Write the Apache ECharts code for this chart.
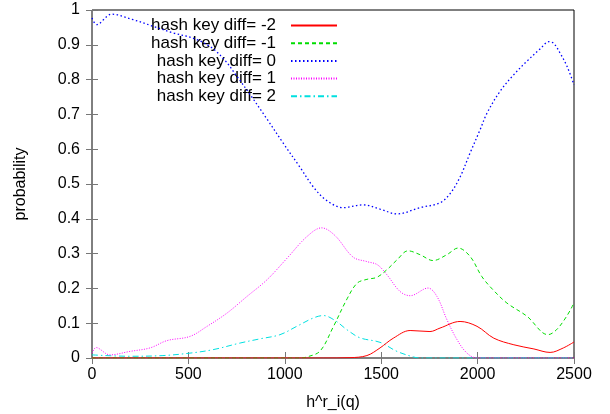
<!DOCTYPE html>
<html>
<head>
<meta charset="utf-8">
<script src="https://cdn.jsdelivr.net/npm/echarts@6/dist/echarts.min.js"></script>
<style>
html,body{margin:0;padding:0;background:#fff;}
#chart{width:610px;height:414px;}
</style>
</head>
<body>
<div id="chart"></div>
<script>
// ---- data ----
var seriesNames = ['hash key diff= -2', 'hash key diff= -1', 'hash key diff= 0', 'hash key diff= 1', 'hash key diff= 2'];

var xDiffM2 = [0, 1200, 1338, 1426, 1494, 1563, 1650, 1753, 1805, 1909, 1997, 2084, 2188, 2292, 2376, 2445, 2500];
var yDiffM2 = [0, 0, 0.001, 0.007, 0.029, 0.057, 0.079, 0.076, 0.086, 0.105, 0.091, 0.057, 0.038, 0.026, 0.016, 0.029, 0.046];

var xDiffM1 = [0, 1079, 1115, 1183, 1250, 1323, 1375, 1426, 1478, 1530, 1582, 1639, 1701, 1769, 1841, 1899, 1961, 2022, 2080, 2152, 2256, 2365, 2409, 2462, 2500];
var yDiffM1 = [0, 0, 0.003, 0.02, 0.088, 0.17, 0.215, 0.226, 0.232, 0.254, 0.282, 0.308, 0.297, 0.28, 0.297, 0.316, 0.292, 0.234, 0.196, 0.158, 0.12, 0.067, 0.081, 0.12, 0.158];

var xDiff0 = [0, 24, 102, 214, 318, 422, 530, 620, 690, 751, 820, 906, 991, 1079, 1150, 1219, 1302, 1406, 1494, 1582, 1701, 1805, 1857, 1909, 1961, 2013, 2049, 2116, 2184, 2256, 2324, 2370, 2395, 2428, 2464, 2500];
var yDiff0 = [0.977, 0.958, 0.988, 0.972, 0.953, 0.934, 0.918, 0.892, 0.855, 0.81, 0.757, 0.688, 0.618, 0.548, 0.49, 0.452, 0.432, 0.44, 0.428, 0.414, 0.432, 0.446, 0.472, 0.52, 0.589, 0.656, 0.704, 0.766, 0.812, 0.853, 0.888, 0.909, 0.904, 0.876, 0.838, 0.785];

var xDiffP1 = [0, 21, 93, 197, 301, 389, 508, 597, 700, 804, 908, 1012, 1115, 1191, 1260, 1354, 1426, 1480, 1530, 1598, 1650, 1743, 1789, 1841, 1893, 1945, 1997, 2500];
var yDiffP1 = [0.014, 0.03, 0.009, 0.019, 0.029, 0.05, 0.062, 0.091, 0.129, 0.177, 0.225, 0.287, 0.349, 0.374, 0.352, 0.29, 0.277, 0.268, 0.239, 0.191, 0.179, 0.201, 0.177, 0.11, 0.053, 0.014, 0, 0];

var xDiffP2 = [0, 197, 368, 508, 628, 768, 871, 975, 1062, 1148, 1200, 1260, 1323, 1390, 1494, 1582, 1667, 1701, 2500];
var yDiffP2 = [0.009, 0.005, 0.007, 0.014, 0.024, 0.043, 0.055, 0.067, 0.091, 0.115, 0.122, 0.108, 0.081, 0.058, 0.045, 0.019, 0.003, 0, 0];

var xTicks = {min: 0, max: 2500, interval: 500};
var yTicks = {min: 0, max: 1, interval: 0.1};
var xTitle = 'h^r_i(q)';
var yTitle = 'probability';

function pairs(xs, ys) {
  return xs.map(function (x, i) { return [x, ys[i]]; });
}

var FONT = "'Liberation Sans', Arial, sans-serif";
var styles = [
  {color: '#ff0000', type: 'solid', width: 1},
  {color: '#00dd00', type: [4, 3], width: 1},
  {color: '#0000ff', type: [1.5, 2.5], width: 1.3},
  {color: '#ff00ff', type: [1, 1.5], width: 1},
  {color: '#00e0e0', type: [6, 3, 1.5, 3], width: 1}
];
var datasets = [
  pairs(xDiffM2, yDiffM2),
  pairs(xDiffM1, yDiffM1),
  pairs(xDiff0, yDiff0),
  pairs(xDiffP1, yDiffP1),
  pairs(xDiffP2, yDiffP2)
];

var series = datasets.map(function (d, i) {
  return {
    name: seriesNames[i],
    type: 'line',
    data: d,
    xAxisIndex: 0,
    yAxisIndex: 0,
    symbol: 'none',
    smooth: 0.35,
    color: styles[i].color,
    lineStyle: {color: styles[i].color, type: styles[i].type, width: styles[i].width},
    z: 10 - i,
    animation: false
  };
});

var tickStyle = {show: true, inside: true, length: 6, lineStyle: {color: '#777', width: 1}};
function plain(v) { return String(Math.round(v * 1000) / 1000); }

var chart = echarts.init(document.getElementById('chart'), null, {renderer: 'canvas'});
chart.setOption({
  animation: false,
  backgroundColor: '#fff',
  textStyle: {fontFamily: FONT},
  grid: {left: 92, right: 36, top: 10, bottom: 56, containLabel: false, outerBoundsMode: 'none', show: true, borderColor: '#000', borderWidth: 1, backgroundColor: 'transparent'},
  legend: {
    orient: 'vertical',
    right: 272,
    top: 17,
    padding: 0,
    align: 'right',
    itemWidth: 46,
    itemHeight: 14,
    itemGap: 0.7,
    data: seriesNames,
    itemStyle: {opacity: 0},
    textStyle: {fontSize: 17, color: '#000', fontFamily: FONT, width: 150, align: 'right', lineHeight: 14, padding: [0, 10, 0, 0]}
  },
  xAxis: [
    {
      type: 'value', position: 'bottom', min: xTicks.min, max: xTicks.max, interval: xTicks.interval,
      axisLine: {show: false}, axisTick: tickStyle, splitLine: {show: false},
      axisLabel: {fontSize: 16, color: '#000', margin: 9, fontFamily: FONT, formatter: plain},
      name: xTitle, nameLocation: 'middle', nameGap: 37,
      nameTextStyle: {fontSize: 16, color: '#000', fontFamily: FONT}
    },
    {
      type: 'value', position: 'top', min: xTicks.min, max: xTicks.max, interval: xTicks.interval,
      axisLine: {show: false}, axisTick: tickStyle, splitLine: {show: false}, axisLabel: {show: false}
    }
  ],
  yAxis: [
    {
      type: 'value', position: 'left', min: yTicks.min, max: yTicks.max, interval: yTicks.interval,
      axisLine: {show: false}, axisTick: tickStyle, splitLine: {show: false},
      axisLabel: {fontSize: 16, color: '#000', margin: 12, fontFamily: FONT, formatter: plain},
      name: yTitle, nameLocation: 'middle', nameGap: 63, nameRotate: 90,
      nameTextStyle: {fontSize: 16, color: '#000', fontFamily: FONT}
    },
    {
      type: 'value', position: 'right', min: yTicks.min, max: yTicks.max, interval: yTicks.interval,
      axisLine: {show: false}, axisTick: tickStyle, splitLine: {show: false}, axisLabel: {show: false}
    }
  ],
  series: series
});
</script>
</body>
</html>
